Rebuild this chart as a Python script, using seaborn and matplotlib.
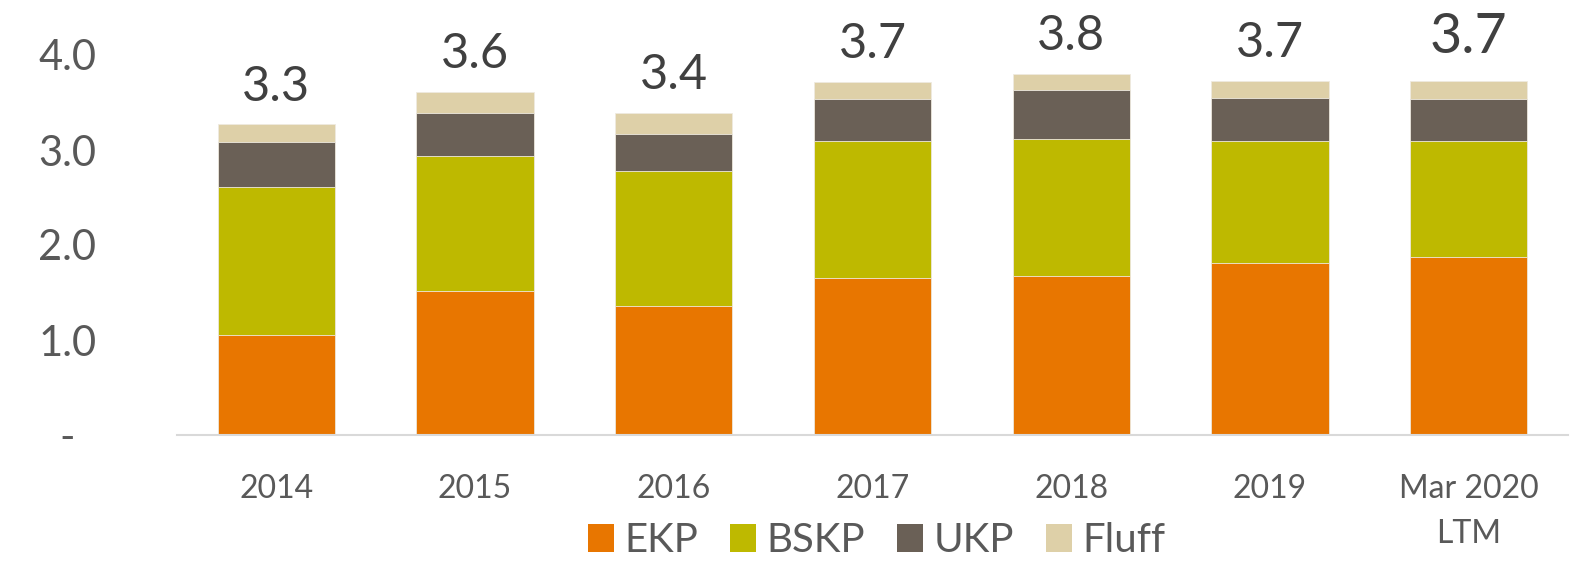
import numpy as np
import pandas as pd
import matplotlib as mpl
mpl.use('Agg')
import seaborn as sns
import matplotlib.pyplot as plt
from matplotlib.patches import Patch

# data
years = ["2014", "2015", "2016", "2017", "2018", "2019", "Mar 2020\nLTM"]
ekp = [1.05, 1.52, 1.36, 1.65, 1.67, 1.81, 1.87]
bskp = [1.56, 1.42, 1.42, 1.44, 1.45, 1.28, 1.22]
ukp = [0.47, 0.45, 0.39, 0.45, 0.51, 0.46, 0.45]
fluff = [0.19, 0.22, 0.22, 0.18, 0.17, 0.18, 0.19]

series = ["EKP", "BSKP", "UKP", "Fluff"]
colors = {"EKP": "#E87600", "BSKP": "#BEB900", "UKP": "#6A6056", "Fluff": "#DED0A8"}

sns.set_style("white")
plt.rcParams['font.family'] = ['Lato', 'DejaVu Sans']

df = pd.DataFrame({"year": years, "EKP": ekp, "BSKP": bskp, "UKP": ukp, "Fluff": fluff})
# cumulative heights, drawn tallest first so each layer covers the one above it
cum = df[series].cumsum(axis=1)
df["total"] = df[series].sum(axis=1)

fig = plt.figure(figsize=(15.88, 5.63), dpi=100)
ax = fig.add_axes([177 / 1588, 128 / 563, 1391 / 1588, 418 / 563])

for s in reversed(series):
    sns.barplot(x=df["year"], y=cum[s], color=colors[s], width=0.59,
                saturation=1, ax=ax, order=years, linewidth=0.6, edgecolor="#EFEAE0")

ax.set_ylim(0, 4.4)
ax.set_yticks([0, 1, 2, 3, 4])
ax.set_yticklabels(["-  ", "1.0", "2.0", "3.0", "4.0"])
ax.set_xlabel("")
ax.set_ylabel("")

for sp in ["top", "right", "left"]:
    ax.spines[sp].set_visible(False)
ax.spines["bottom"].set_color("#D9D9D9")
ax.spines["bottom"].set_linewidth(1.5)

ax.tick_params(axis='y', length=0, pad=58, labelsize=30, labelcolor="#595959")
ax.tick_params(axis='x', length=0, pad=28, labelsize=23, labelcolor="#595959")
for lbl in ax.get_xticklabels():
    lbl.set_linespacing(1.65)
    lbl.set_verticalalignment("top")

# totals on top of bars
for i, t in enumerate(df["total"]):
    last = i == len(df) - 1
    ax.annotate("%.1f" % t, (i, t), xytext=(0, 20 if last else 17),
                textcoords="offset points", ha="center", va="baseline",
                fontsize=40 if last else 35, color="#404040")

handles = [Patch(facecolor=colors[s], edgecolor="none", label=s) for s in series]
fig.legend(handles=handles, loc="center", bbox_to_anchor=(0.552, 0.04), ncol=4,
           frameon=False, fontsize=29, handlelength=0.65, handleheight=0.7,
           handletextpad=0.25, columnspacing=0.8, labelcolor="#595959")

fig.savefig("out.png", dpi=100)
